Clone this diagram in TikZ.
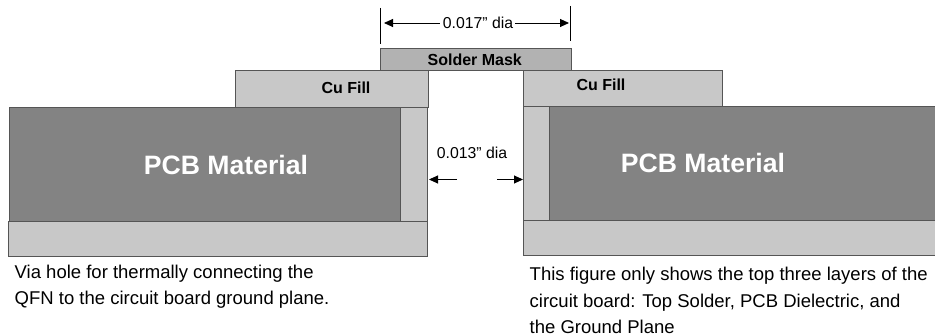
\documentclass[tikz,border=0pt]{standalone}
\usepackage{fontspec}
\setmainfont{Liberation Sans}
\usetikzlibrary{arrows.meta}
\definecolor{fillc}{HTML}{C8C8C8}
\definecolor{maskc}{HTML}{B2B2B2}
\definecolor{pcbc}{HTML}{838383}
\definecolor{edgec}{HTML}{555555}
\tikzset{
  layer/.style={draw=edgec,line width=1pt,fill=#1,inner sep=0pt,outer sep=0pt,anchor=north west},
  lab/.style={inner sep=0pt,text=black,font=\fontsize{15.8}{16}\selectfont},
  boldlab/.style={inner sep=0pt,text=black,font=\fontsize{16}{16}\selectfont\bfseries},
  pcblab/.style={inner sep=0pt,text=white,font=\fontsize{26.6}{27}\selectfont\bfseries},
  para/.style={inner sep=0pt,anchor=north west,align=left,font=\fontsize{18.5}{26.4}\selectfont},
  dim/.style={line width=0.9pt,-{Triangle[length=9pt,width=8pt]}},
  tick/.style={line width=0.9pt}
}
\newcommand{\layerbox}[6]{\node[layer=#6,minimum width=#3pt,minimum height=#4pt] (#5) at (#1pt,-#2pt) {};}
\begin{document}
\begin{tikzpicture}[x=1pt,y=1pt]
\useasboundingbox (0,0) rectangle (935,-336);
% left side
\layerbox{8.5}{222}{418.5}{35}{botL}{fillc}
\layerbox{235.5}{71}{193}{37}{cuL}{fillc}
\layerbox{400.5}{108}{27}{113.5}{wallL}{fillc}
\layerbox{9.5}{108}{391}{114}{pcbL}{pcbc}
% right side
\layerbox{523.5}{221}{420}{35}{botR}{fillc}
\layerbox{523.5}{70.5}{199}{36}{cuR}{fillc}
\layerbox{523.5}{106.5}{26}{114.5}{wallR}{fillc}
\layerbox{549.5}{106.5}{395}{114}{pcbR}{pcbc}
% mask
\layerbox{380.5}{48.5}{190.5}{22.5}{mask}{maskc}
% labels
\node[boldlab,xshift=-1pt] at (mask.center) {Solder Mask};
\node[boldlab] at (346,-88) {Cu Fill};
\node[boldlab] at (601,-85) {Cu Fill};
\node[pcblab] at (226,-165) {PCB Material};
\node[pcblab] at (703,-163) {PCB Material};
% dimensions
\coordinate (t1a) at (380.5,-8);
\coordinate (t1b) at (380.5,-44);
\coordinate (t2a) at (570.5,-6);
\coordinate (t2b) at (570.5,-41);
\draw[tick] (t1a) -- (t1b);
\draw[tick] (t2a) -- (t2b);
\node[lab] (d17) at (478,-23) {0.017” dia};
\coordinate (a1) at (384,-23);
\coordinate (a2) at (569,-23);
\draw[dim] (d17.west) ++(-3,0) -- (a1);
\draw[dim] (d17.east) ++(2,0) -- (a2);
\node[lab] (d13) at (472,-153) {0.013” dia};
\coordinate (b1s) at (457,-179.5);
\coordinate (b1) at (429,-179.5);
\coordinate (b2s) at (497,-179.5);
\coordinate (b2) at (523,-179.5);
\draw[dim] (b1s) -- (b1);
\draw[dim] (b2s) -- (b2);
% captions
\node[para] (capL) at (14.5,-264.5) {Via hole for thermally connecting the\\QFN to the circuit board ground plane.};
\node[para] (capR) at (529.5,-267) {This figure only shows the top three layers of the\\circuit board: Top Solder, PCB Dielectric, and\\the Ground Plane};
\end{tikzpicture}
\end{document}
